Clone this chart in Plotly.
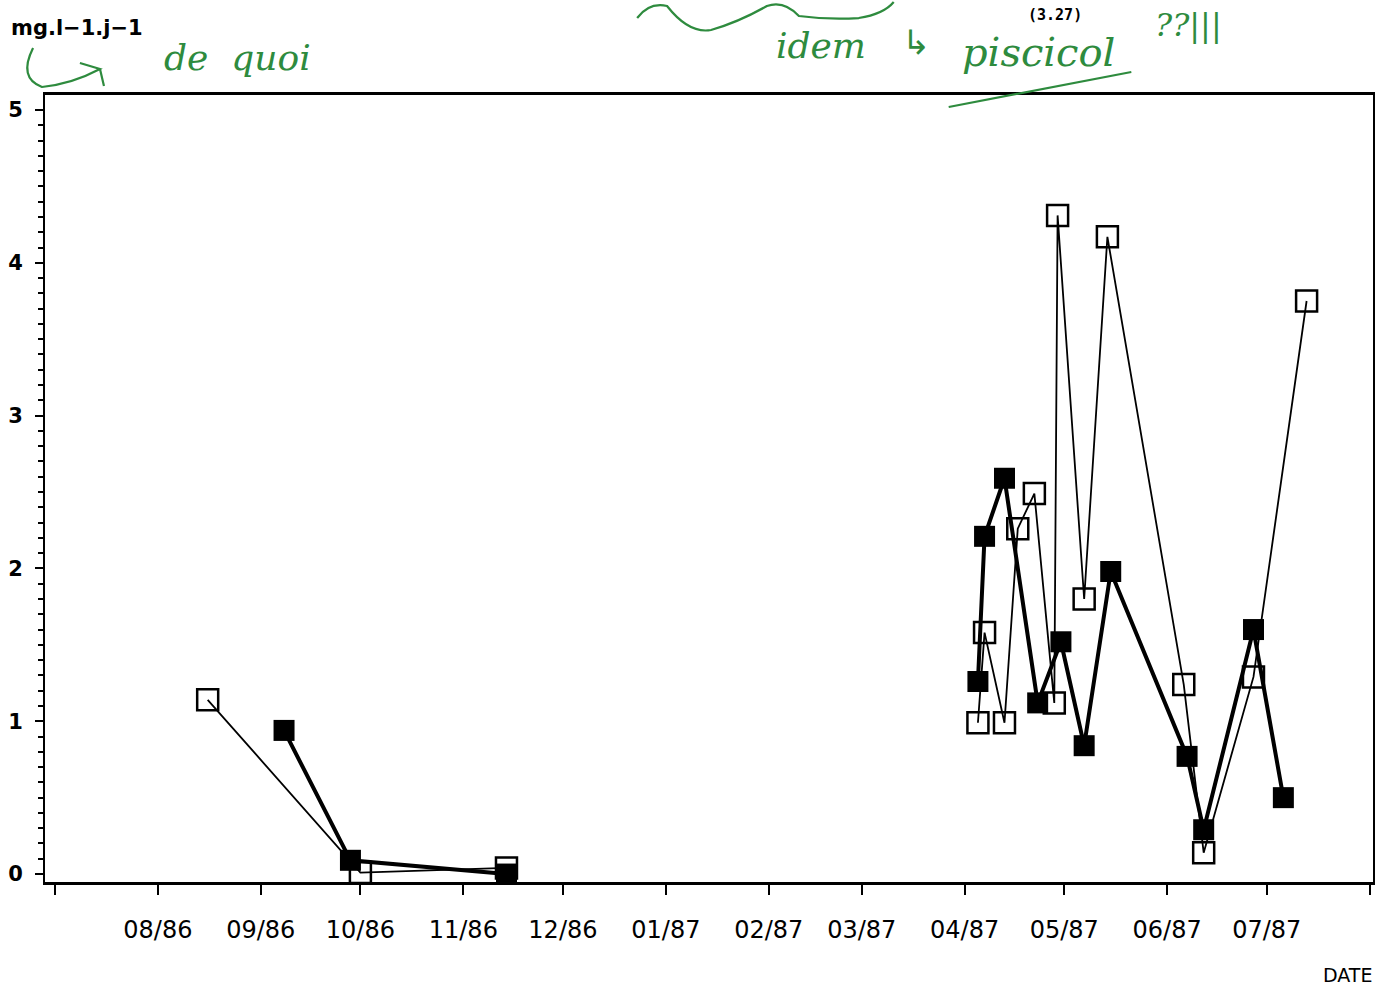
import plotly.graph_objects as go

# Sampling dates and concentrations (mg.l-1.j-1)
open_dates_86 = ['1986-08-16', '1986-10-01', '1986-11-14']
open_vals_86 = [1.14, 0.01, 0.04]
open_dates_87 = ['1987-04-05', '1987-04-07', '1987-04-13', '1987-04-17', '1987-04-22',
                 '1987-04-28', '1987-04-29', '1987-05-07', '1987-05-14', '1987-06-06',
                 '1987-06-12', '1987-06-27', '1987-07-13']
open_vals_87 = [0.99, 1.58, 0.99, 2.26, 2.49, 1.12, 4.31, 1.80, 4.17, 1.24, 0.14, 1.29, 3.75]

filled_dates_86 = ['1986-09-08', '1986-09-28', '1986-11-14']
filled_vals_86 = [0.94, 0.09, 0.0]
filled_dates_87 = ['1987-04-05', '1987-04-07', '1987-04-13', '1987-04-23', '1987-04-30',
                   '1987-05-07', '1987-05-15', '1987-06-07', '1987-06-12', '1987-06-27',
                   '1987-07-06']
filled_vals_87 = [1.26, 2.21, 2.59, 1.12, 1.52, 0.84, 1.98, 0.77, 0.29, 1.60, 0.50]

month_ticks = ['1986-07-01', '1986-08-01', '1986-09-01', '1986-10-01', '1986-11-01',
               '1986-12-01', '1987-01-01', '1987-02-01', '1987-03-01', '1987-04-01',
               '1987-05-01', '1987-06-01', '1987-07-01', '1987-08-01']
month_labels = ['', '08/86', '09/86', '10/86', '11/86', '12/86', '01/87', '02/87',
                '03/87', '04/87', '05/87', '06/87', '07/87', '']

fig = go.Figure()

# open squares, thin line
for d, v in [(open_dates_86, open_vals_86), (open_dates_87, open_vals_87)]:
    fig.add_trace(go.Scatter(
        x=d, y=v, mode='lines+markers', showlegend=False,
        line=dict(color='black', width=1.8),
        marker=dict(symbol='square-open', size=21, color='black', line=dict(width=2.5))))

# filled squares, thick line
for d, v in [(filled_dates_86, filled_vals_86), (filled_dates_87, filled_vals_87)]:
    fig.add_trace(go.Scatter(
        x=d, y=v, mode='lines+markers', showlegend=False,
        line=dict(color='black', width=4),
        marker=dict(symbol='square', size=21, color='black')))

fig.update_xaxes(
    type='date', range=['1986-06-28', '1987-08-02'],
    tickvals=month_ticks, ticktext=month_labels,
    ticks='outside', ticklen=10, tickwidth=2, tickcolor='black',
    ticklabelstandoff=14,
    showline=True, linewidth=2.5, linecolor='black', mirror=True,
    showgrid=False, zeroline=False,
    tickfont=dict(family='DejaVu Sans', size=24, color='black'))

fig.update_yaxes(
    range=[-0.052, 5.098], tickvals=[0, 1, 2, 3, 4, 5],
    ticks='outside', ticklen=8, tickwidth=2, tickcolor='black',
    minor=dict(dtick=0.1, ticks='outside', ticklen=5, tickwidth=1.5, tickcolor='black'),
    ticklabelstandoff=8,
    showline=True, linewidth=2, linecolor='black', mirror=True,
    showgrid=False, zeroline=False,
    tickfont=dict(family='DejaVu Sans', size=21, color='black', weight='bold'))


# page pixels -> paper coordinates (plot area 45..1375 x 95..882)
def px(x, y):
    return (x - 45) / 1330, (882 - y) / 787


green = '#2e8b3e'
notes = [
    ('<b>mg.l\u22121.j\u22121</b>', 9, 28, 'left', 'DejaVu Sans', 21, 'black', False),
    ('DATE', 1376, 975, 'right', 'DejaVu Sans', 19, 'black', False),
    ('de  quoi', 238, 58, 'center', 'DejaVu Serif', 36, green, True),
    ('idem', 822, 45, 'center', 'DejaVu Serif', 36, green, True),
    ('\u21b3', 918, 42, 'center', 'DejaVu Sans', 34, green, False),
    ('piscicol', 1040, 52, 'center', 'DejaVu Serif', 40, green, True),
    ('??|||', 1190, 25, 'center', 'DejaVu Serif', 32, green, True),
    ('<b>(3.27)</b>', 1057, 15, 'center', 'DejaVu Sans Mono', 15, 'black', False),
]
for text, x, y, anchor, fam, size, col, ital in notes:
    xp, yp = px(x, y)
    fig.add_annotation(xref='paper', yref='paper', showarrow=False, x=xp, y=yp,
                       xanchor=anchor, yanchor='middle',
                       text=f'<i>{text}</i>' if ital else text,
                       font=dict(family=fam, size=size, color=col))


def pen(points, cmds):
    parts = []
    for c, pts in zip(cmds, points):
        coords = ' '.join('%.4f,%.4f' % px(*p) for p in pts)
        parts.append(f'{c} {coords}')
    fig.add_shape(type='path', xref='paper', yref='paper', path=' '.join(parts),
                  line=dict(color=green, width=2.2))


# wavy stroke at the top
pen([[(638, 18)], [(650, 2), (668, 6)], [(690, 34), (712, 30)], [(740, 22), (768, 6)],
     [(785, 0), (800, 16)], [(830, 20), (860, 18)], [(885, 14), (895, 2)]],
    ['M', 'Q', 'Q', 'Q', 'Q', 'Q', 'Q'])
# hook arrow under the unit label
pen([[(33, 48)], [(18, 78), (42, 87)], [(72, 84), (100, 69)], [(80, 63)],
     [(100, 69)], [(104, 86)]],
    ['M', 'Q', 'Q', 'L', 'M', 'L'])
# underline below "piscicol"
pen([[(950, 107)], [(1133, 72)]], ['M', 'L'])

fig.update_layout(
    width=1381, height=988,
    margin=dict(l=45, r=6, t=95, b=106),
    paper_bgcolor='white', plot_bgcolor='white',
    font=dict(family='DejaVu Sans', color='black'))

fig.write_html('out.html', config={'displayModeBar': False},
               post_script="document.body.style.margin='0';")
